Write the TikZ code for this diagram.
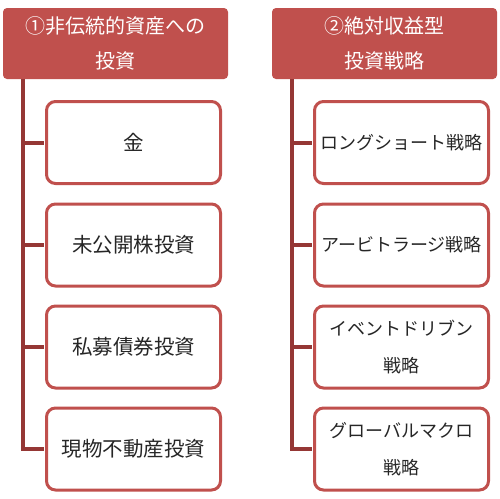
\documentclass[tikz,border=0pt]{standalone}
\usepackage{fontspec}
\setmainfont{Noto Sans CJK JP}
\definecolor{hdr}{HTML}{C0504D}
\definecolor{bord}{HTML}{C0504D}
\definecolor{conn}{HTML}{953735}
\begin{document}
\begin{tikzpicture}[x=1pt,y=-1pt,
  header/.style={fill=hdr,draw=none,rounded corners=4pt,minimum width=225pt,minimum height=71pt,text=white,align=center,inner sep=0pt,font=\fontsize{20}{35}\selectfont},
  item/.style={draw=bord,line width=3pt,fill=white,rounded corners=9pt,minimum width=174pt,minimum height=82pt,align=center,inner sep=0pt,text=black!85,font=\fontsize{20.5}{37}\selectfont},
  kana/.style={font=\fontsize{18}{37}\selectfont},
  link/.style={draw=conn,line width=4pt}]
\useasboundingbox (0,0) rectangle (500,498);
\node[header] (h1) at (115.5,43.5) {①非伝統的資産への\\投資};
\node[header] (h2) at (384.5,43.5) {②絶対収益型\\投資戦略};
\node[item] (a1) at (133.5,142.5) {金};
\node[item] (a2) at (133.5,245) {未公開株投資};
\node[item] (a3) at (133.5,347) {私募債券投資};
\node[item] (a4) at (133.5,449) {現物不動産投資};
\node[item,kana] (b1) at (401.5,142.5) {ロングショート戦略};
\node[item,kana] (b2) at (401.5,245) {アービトラージ戦略};
\node[item,kana] (b3) at (401.5,347) {イベントドリブン\\戦略};
\node[item,kana] (b4) at (401.5,449) {グローバルマクロ\\戦略};
\coordinate (t1) at (23,79);
\coordinate (t2) at (292,79);
\draw[link] (t1) |- ([xshift=-1.5pt]a4.west);
\draw[link] (t1 |- a1.west) -- ([xshift=-1.5pt]a1.west);
\draw[link] (t1 |- a2.west) -- ([xshift=-1.5pt]a2.west);
\draw[link] (t1 |- a3.west) -- ([xshift=-1.5pt]a3.west);
\draw[link] (t2) |- ([xshift=-1.5pt]b4.west);
\draw[link] (t2 |- b1.west) -- ([xshift=-1.5pt]b1.west);
\draw[link] (t2 |- b2.west) -- ([xshift=-1.5pt]b2.west);
\draw[link] (t2 |- b3.west) -- ([xshift=-1.5pt]b3.west);
\end{tikzpicture}
\end{document}
